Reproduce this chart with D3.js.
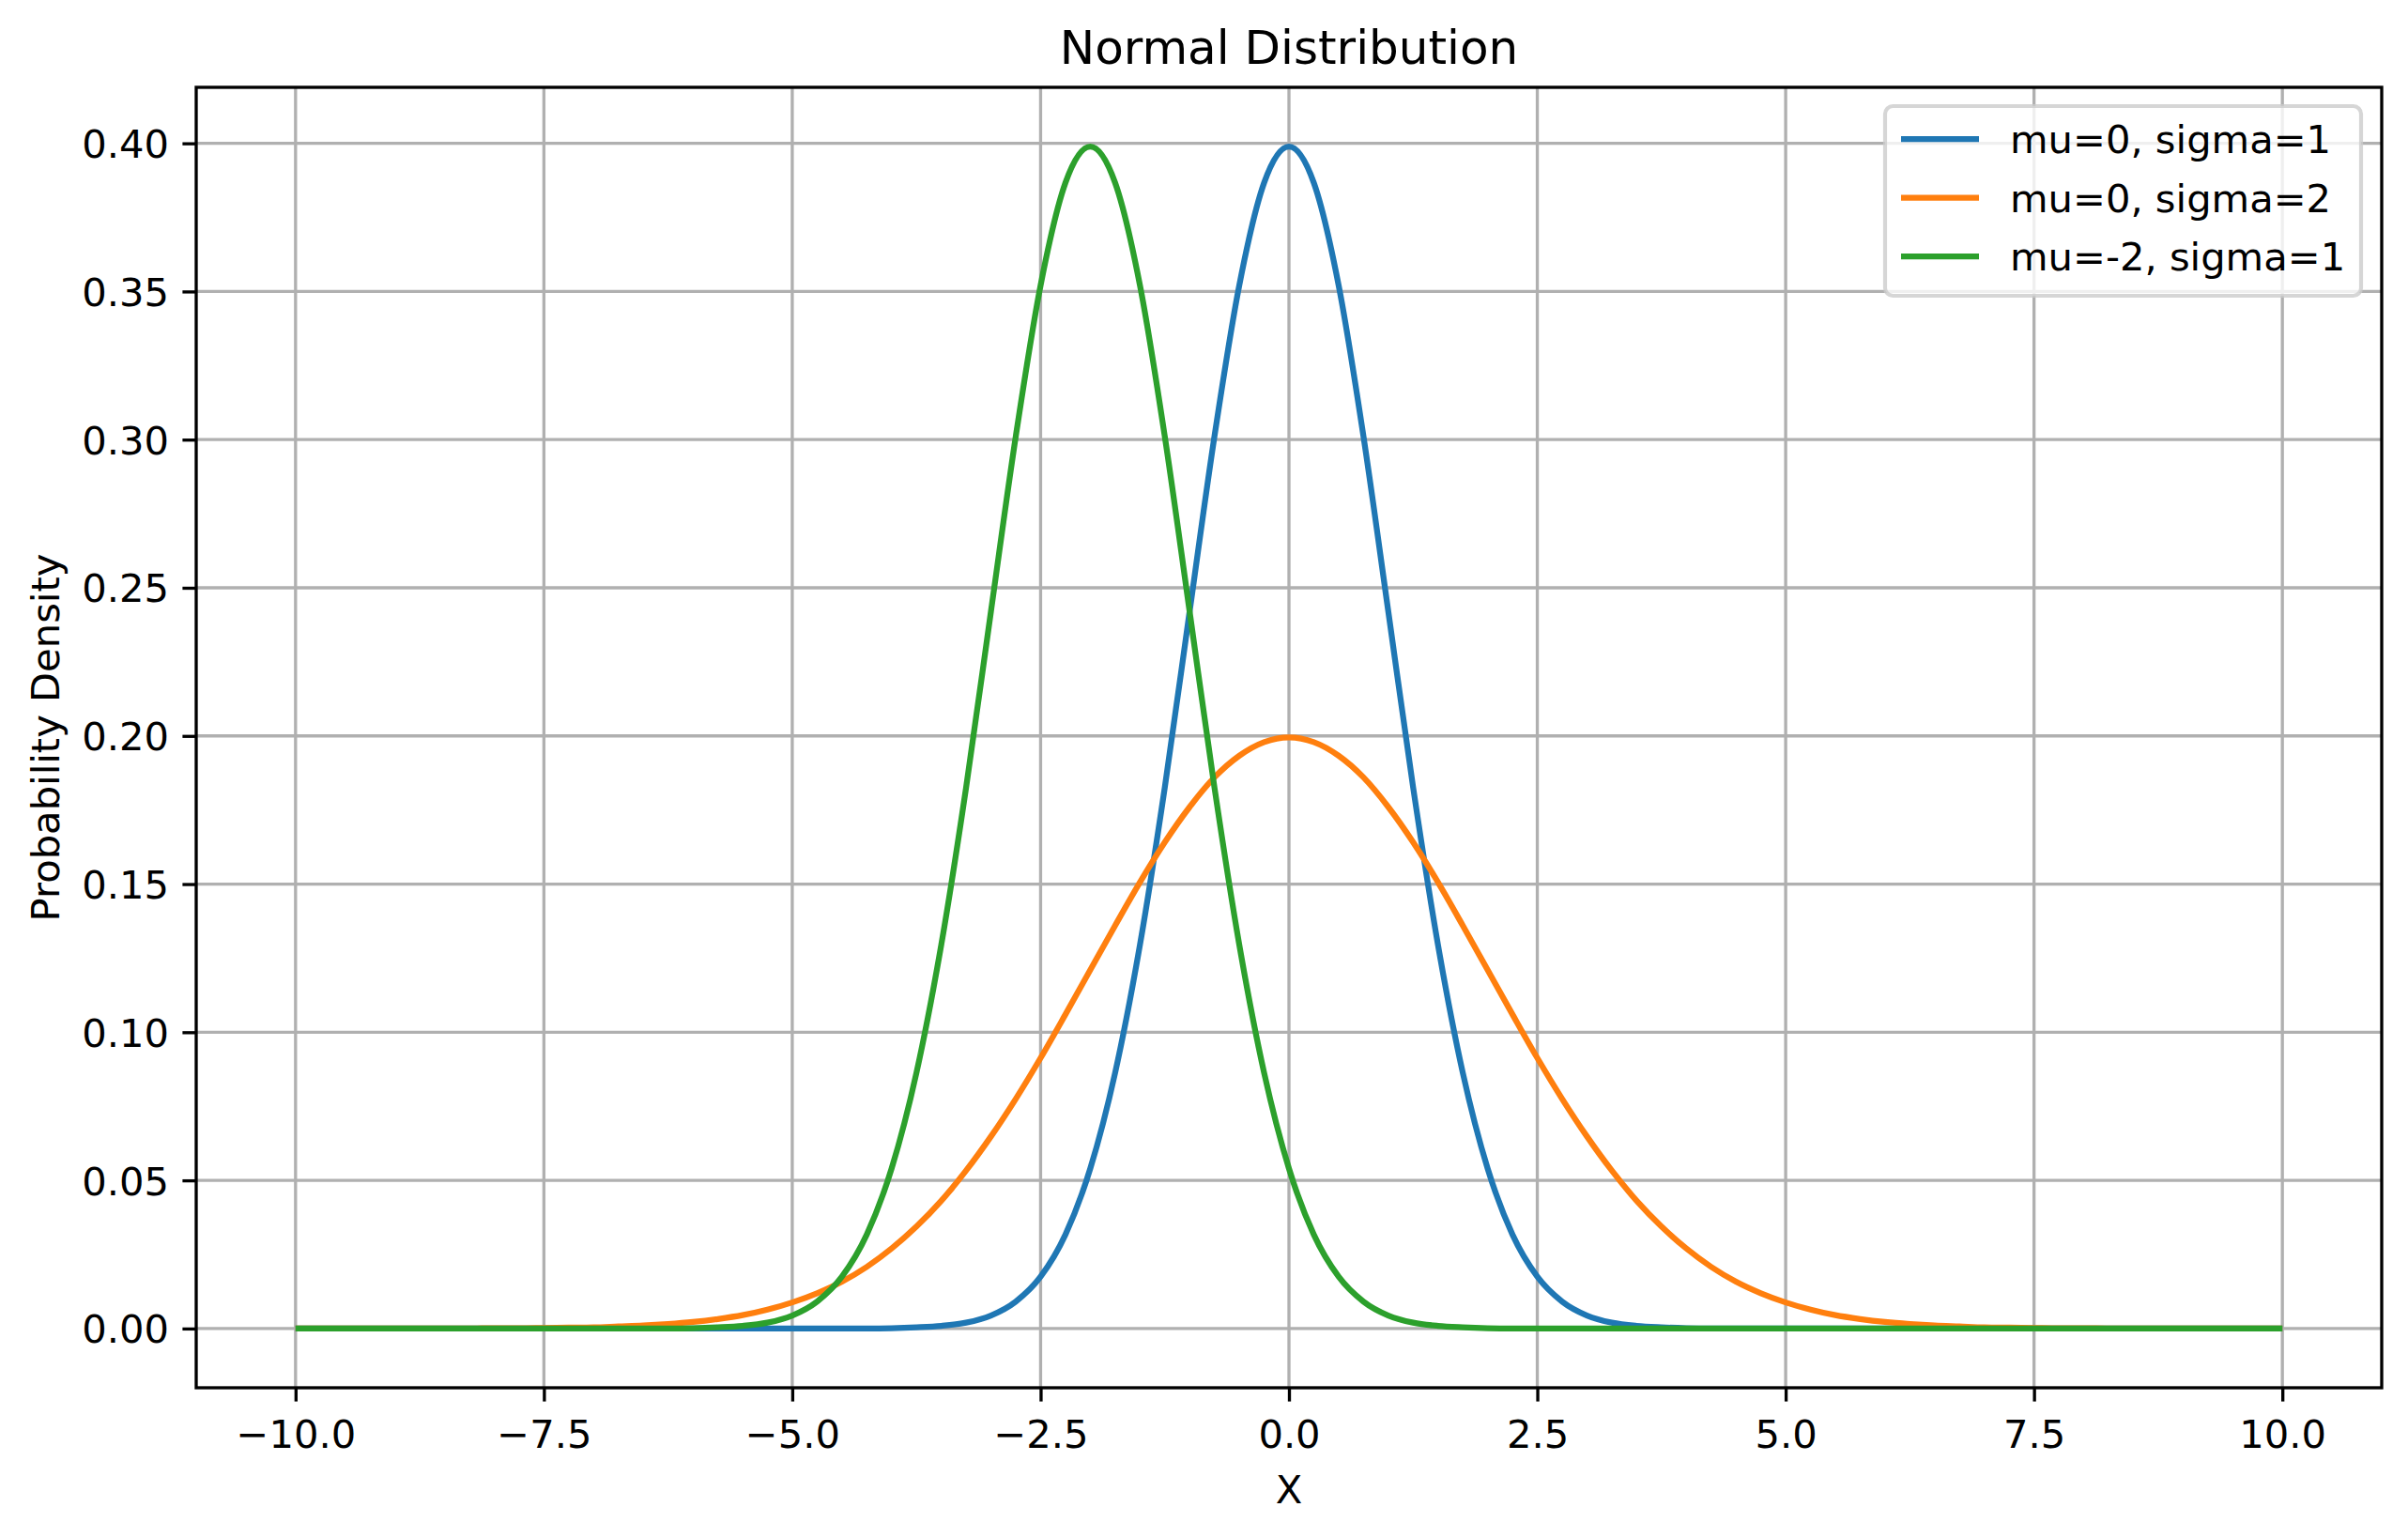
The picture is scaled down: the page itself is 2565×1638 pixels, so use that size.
<!DOCTYPE html>
<html>
<head>
<meta charset="utf-8">
<script src="https://cdn.jsdelivr.net/npm/d3@7"></script>
<style>
	body { margin:0; background:#fff; }
	text { font-family: "DejaVu Sans", sans-serif; fill:#000; }
</style>
</head>
<body>
<svg id="chart" width="2565" height="1638"></svg>
<script>
// sample points along x, every 0.25
var xs = d3.range(81).map(function(i){ return -10 + i*0.25; });

var labels = ["mu=0, sigma=1", "mu=0, sigma=2", "mu=-2, sigma=1"];
var colors = ["#1f77b4", "#ff7f0e", "#2ca02c"];

var blue = [
	0,0,0,0,0,0,0,0,0,0,0,0,0,0,0,0,0,0,0,0,0,0,0,0,
	0.0001,0.0004,0.0009,0.0020,0.0044,0.0091,0.0175,0.0317,0.0540,0.0863,0.1295,0.1826,0.2420,0.3011,0.3521,0.3867,
	0.3989,
	0.3867,0.3521,0.3011,0.2420,0.1826,0.1295,0.0863,0.0540,0.0317,0.0175,0.0091,0.0044,0.0020,0.0009,0.0004,0.0001,
	0,0,0,0,0,0,0,0,0,0,0,0,0,0,0,0,0,0,0,0,0,0,0,0
];
var orange = [
	0,0,0,0,0,0,0,0,
	0.0001,0.0001,0.0002,0.0003,0.0004,0.0007,0.0010,0.0015,0.0022,0.0032,0.0045,0.0064,0.0088,0.0119,0.0158,0.0208,
	0.0270,0.0344,0.0431,0.0533,0.0648,0.0775,0.0913,0.1060,0.1210,0.1360,0.1506,0.1641,0.1760,0.1860,0.1933,0.1979,
	0.1995,
	0.1979,0.1933,0.1860,0.1760,0.1641,0.1506,0.1360,0.1210,0.1060,0.0913,0.0775,0.0648,0.0533,0.0431,0.0344,0.0270,
	0.0208,0.0158,0.0119,0.0088,0.0064,0.0045,0.0032,0.0022,0.0015,0.0010,0.0007,0.0004,0.0003,0.0002,0.0001,0.0001,
	0,0,0,0,0,0,0,0
];
var green = [
	0,0,0,0,0,0,0,0,0,0,0,0,0,0,0,0,
	0.0001,0.0004,0.0009,0.0020,0.0044,0.0091,0.0175,0.0317,0.0540,0.0863,0.1295,0.1826,0.2420,0.3011,0.3521,0.3867,
	0.3989,
	0.3867,0.3521,0.3011,0.2420,0.1826,0.1295,0.0863,0.0540,0.0317,0.0175,0.0091,0.0044,0.0020,0.0009,0.0004,0.0001,
	0,0,0,0,0,0,0,0,0,0,0,0,0,0,0,0,0,0,0,0,0,0,0,0,0,0,0,0,0,0,0,0
];
var series = [blue, orange, green];

var xTicks = [-10, -7.5, -5, -2.5, 0, 2.5, 5, 7.5, 10];
var yTicks = [0, 0.05, 0.10, 0.15, 0.20, 0.25, 0.30, 0.35, 0.40];

var L = 209, R = 2537, T = 93, B = 1478;
var fs = 41.67, lw = 3.33;

var svg = d3.select("#chart");
var x = d3.scaleLinear().domain([-11, 11]).range([L, R]);
var y = d3.scaleLinear().domain([-0.02, 0.4189]).range([B, T]);

// grid
var grid = svg.append("g").attr("stroke", "#b0b0b0").attr("stroke-width", lw);
grid.selectAll(".gx").data(xTicks).enter().append("line")
	.attr("x1", function(d){ return x(d); }).attr("x2", function(d){ return x(d); })
	.attr("y1", T).attr("y2", B);
grid.selectAll(".gy").data(yTicks).enter().append("line")
	.attr("y1", function(d){ return y(d); }).attr("y2", function(d){ return y(d); })
	.attr("x1", L).attr("x2", R);

// curves
var line = d3.line()
	.x(function(d, i){ return x(xs[i]); })
	.y(function(d){ return y(d); })
	.curve(d3.curveMonotoneX);
svg.append("g").selectAll("path").data(series).enter().append("path")
	.attr("d", line)
	.attr("fill", "none")
	.attr("stroke", function(d, i){ return colors[i]; })
	.attr("stroke-width", 6.25)
	.attr("stroke-linejoin", "round");

// axes
var xAxis = d3.axisBottom(x).tickValues(xTicks).tickSize(14.6).tickPadding(14.6)
	.tickFormat(function(d){ return d3.format(".1f")(d).replace("-", "\u2212"); });
var yAxis = d3.axisLeft(y).tickValues(yTicks).tickSize(14.6).tickPadding(14.6)
	.tickFormat(d3.format(".2f"));

var gx = svg.append("g").attr("transform", "translate(0," + B + ")").call(xAxis);
var gy = svg.append("g").attr("transform", "translate(" + L + ",0)").call(yAxis);
[gx, gy].forEach(function(g){
	g.select(".domain").remove();
	g.selectAll(".tick line").attr("stroke", "#000").attr("stroke-width", lw);
	g.selectAll(".tick text").attr("font-size", fs).attr("font-family", "DejaVu Sans").attr("fill", "#000");
});
gx.selectAll(".tick text").attr("dy", null).attr("y", 64);
gy.selectAll(".tick text").attr("dy", "0.36em").attr("x", -29);

svg.append("rect").attr("x", L).attr("y", T).attr("width", R - L).attr("height", B - T)
	.attr("fill", "none").attr("stroke", "#000").attr("stroke-width", lw);

// titles
svg.append("text").attr("x", (L + R)/2).attr("y", 68).attr("text-anchor", "middle")
	.attr("font-size", 50).text("Normal Distribution");
svg.append("text").attr("x", (L + R)/2).attr("y", 1601).attr("text-anchor", "middle")
	.attr("font-size", fs).text("X");
svg.append("text").attr("transform", "translate(63," + ((T + B)/2) + ")rotate(-90)")
	.attr("text-anchor", "middle").attr("font-size", fs).text("Probability Density");

// legend
var leg = svg.append("g");
leg.append("rect").attr("x", 2008).attr("y", 113).attr("width", 507).attr("height", 202)
	.attr("rx", 8.3).attr("ry", 8.3)
	.attr("fill", "#fff").attr("fill-opacity", 0.8)
	.attr("stroke", "#cccccc").attr("stroke-opacity", 0.8).attr("stroke-width", 4.17);
var item = leg.selectAll(".item").data(labels).enter().append("g")
	.attr("transform", function(d, i){ return "translate(0," + (148 + i*62.5) + ")"; });
item.append("line").attr("x1", 2025).attr("x2", 2108).attr("y1", 0).attr("y2", 0)
	.attr("stroke", function(d, i){ return colors[i]; }).attr("stroke-width", 6.25);
item.append("text").attr("x", 2141).attr("y", 15).attr("font-size", fs)
	.text(function(d){ return d; });
</script>
</body>
</html>
